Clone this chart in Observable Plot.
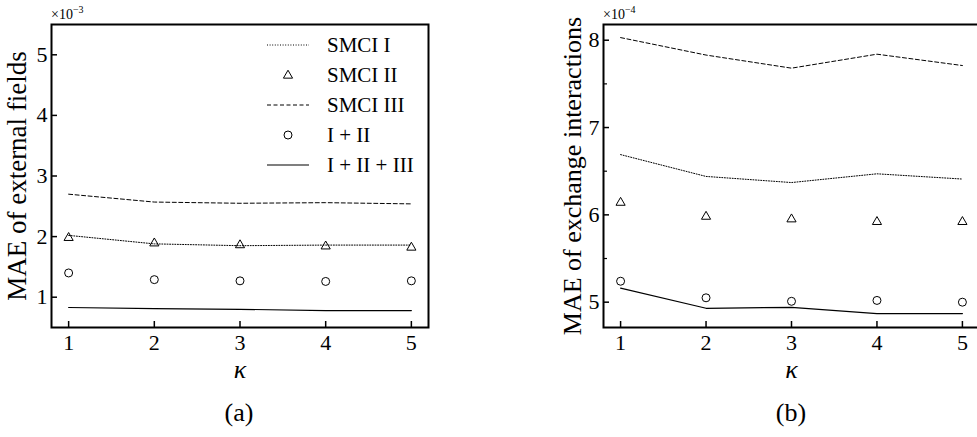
<!DOCTYPE html>
<html>
<head>
<meta charset="utf-8">
<script src="https://cdn.jsdelivr.net/npm/d3@7"></script>
<script src="https://cdn.jsdelivr.net/npm/@observablehq/plot@0.6"></script>
<style>
html, body { margin: 0; padding: 0; background: #fff; overflow: hidden; }
#wrap { position: relative; width: 977px; height: 437px; overflow: hidden; background: #fff;
  font-family: "Liberation Serif", "Times New Roman", serif; color: #000; }
.panel { position: absolute; top: 0; }
.cap { position: absolute; font-size: 26px; line-height: 26px; text-align: center; width: 80px; }
.expo { position: absolute; font-size: 14px; line-height: 14px; white-space: nowrap; }
.expo sup { font-size: 10px; vertical-align: 6px; line-height: 0; }
#legend { position: absolute; left: 267px; top: 30px; font-size: 21px; }
#legend .row { height: 30px; display: flex; align-items: center; white-space: nowrap; }
#legend svg { width: 42px; height: 12px; margin-right: 18px; flex: none; }
</style>
</head>
<body>
<div id="wrap"></div>
<script>
// ---------- data ----------
const kappa = [1, 2, 3, 4, 5];
const seriesNames = ["SMCI I", "SMCI II", "SMCI III", "I + II", "I + II + III"];

// panel (a): MAE of external fields (x 10^-3)
const fieldsSMCI1 = [2.02, 1.88, 1.85, 1.86, 1.86];
const fieldsSMCI2 = [1.98, 1.89, 1.86, 1.84, 1.82];
const fieldsSMCI3 = [2.70, 2.57, 2.55, 2.56, 2.54];
const fieldsI_II = [1.40, 1.29, 1.27, 1.26, 1.27];
const fieldsI_II_III = [0.83, 0.81, 0.80, 0.78, 0.78];
const fieldsYTicks = [1, 2, 3, 4, 5];

// panel (b): MAE of exchange interactions (x 10^-4)
const exchSMCI1 = [6.69, 6.44, 6.37, 6.47, 6.41];
const exchSMCI2 = [6.14, 5.98, 5.95, 5.92, 5.92];
const exchSMCI3 = [8.03, 7.83, 7.68, 7.84, 7.71];
const exchI_II = [5.24, 5.05, 5.01, 5.02, 5.00];
const exchI_II_III = [5.16, 4.93, 4.94, 4.87, 4.87];
const exchYTicks = [5, 6, 7, 8];
const exchYMinor = [5.5, 6.5, 7.5];

// ---------- drawing ----------
const rows = vals => kappa.map((k, i) => ({k, v: vals[i]}));
const DOTTED = "1,1.6";
const DASHED = "4,2.5";
const intFmt = d3.format("d");

function panel({s1, s2, s3, s12, s123, yDomain, yTicks, yMinor, yLabel, yLabelSize, width, marginLeft, marginRight, yLabelOffset}) {
  const marks = [
    Plot.line(rows(s3), {x: "k", y: "v", stroke: "#000", strokeWidth: 1, strokeDasharray: DASHED}),
    Plot.line(rows(s1), {x: "k", y: "v", stroke: "#000", strokeWidth: 1, strokeDasharray: DOTTED}),
    Plot.line(rows(s123), {x: "k", y: "v", stroke: "#000", strokeWidth: 1.2}),
    Plot.dot(rows(s2), {x: "k", y: "v", symbol: "triangle", r: 3.4, stroke: "#000", fill: "none", strokeWidth: 1}),
    Plot.dot(rows(s12), {x: "k", y: "v", symbol: "circle", r: 4, stroke: "#000", fill: "none", strokeWidth: 1}),
    // inward tick marks
    Plot.axisX(kappa, {tickSize: 6, dy: -6, tickFormat: () => "", label: null, strokeWidth: 1.5}),
    Plot.axisY(yTicks, {tickSize: 6, dx: 6, tickFormat: () => "", label: null, strokeWidth: 1.5}),
    // tick labels + axis labels
    Plot.axisX(kappa, {tickSize: 0, tickPadding: 7, fontSize: 22, tickFormat: intFmt, label: "κ", labelAnchor: "center", labelArrow: "none", labelOffset: 50}),
    Plot.axisY(yTicks, {tickSize: 0, tickPadding: 4, fontSize: 22, tickFormat: intFmt, label: yLabel, labelAnchor: "center", labelArrow: "none", labelOffset: yLabelOffset}),
    Plot.frame({stroke: "#000", strokeWidth: 2})
  ];
  if (yMinor) marks.splice(7, 0, Plot.axisY(yMinor, {tickSize: 4, dx: 4, tickFormat: () => "", label: null, strokeWidth: 1.2}));
  const svg = Plot.plot({
    width, height: 437, marginLeft, marginRight, marginTop: 24, marginBottom: 110,
    style: {fontFamily: '"Liberation Serif", "Times New Roman", serif', color: "#000", background: "transparent", overflow: "visible"},
    x: {domain: [0.8, 5.2]},
    y: {domain: yDomain},
    marks
  });
  d3.select(svg).selectAll('[aria-label="x-axis label"] text').style("font-style", "italic").style("font-size", "26px");
  d3.select(svg).selectAll('[aria-label="y-axis label"] text').style("font-size", yLabelSize + "px");
  return svg;
}

const wrap = document.getElementById("wrap");

const svgA = panel({
  s1: fieldsSMCI1, s2: fieldsSMCI2, s3: fieldsSMCI3, s12: fieldsI_II, s123: fieldsI_II_III,
  yDomain: [0.5, 5.5], yTicks: fieldsYTicks, yMinor: null, yLabel: "MAE of external fields", yLabelSize: 27,
  width: 488, marginLeft: 51, marginRight: 60, yLabelOffset: 45
});
svgA.classList.add("panel"); svgA.style.left = "0px";
wrap.appendChild(svgA);

const svgB = panel({
  s1: exchSMCI1, s2: exchSMCI2, s3: exchSMCI3, s12: exchI_II, s123: exchI_II_III,
  yDomain: [4.71, 8.18], yTicks: exchYTicks, yMinor: exchYMinor, yLabel: "MAE of exchange interactions", yLabelSize: 26,
  width: 500, marginLeft: 115, marginRight: 9, yLabelOffset: 41
});
svgB.classList.add("panel"); svgB.style.left = "488px";
wrap.appendChild(svgB);

// exponent labels
function expo(left, power) {
  const d = document.createElement("div");
  d.className = "expo";
  d.style.left = left + "px"; d.style.top = "8px";
  d.innerHTML = "×10<sup>−" + power + "</sup>";
  wrap.appendChild(d);
}
expo(51, 3);
expo(603, 4);

// captions
function caption(cx, text) {
  const d = document.createElement("div");
  d.className = "cap";
  d.style.left = (cx - 40) + "px"; d.style.top = "400px";
  d.textContent = text;
  wrap.appendChild(d);
}
caption(239, "(a)");
caption(791, "(b)");

// legend (panel a)
const legend = document.createElement("div");
legend.id = "legend";
const swatch = [
  `<line x1="0" x2="42" y1="6" y2="6" stroke="#000" stroke-width="1" stroke-dasharray="${DOTTED}"/>`,
  `<path transform="translate(21,6.5)" d="${d3.symbol(d3.symbolTriangle, 3.4 * 3.4 * Math.PI)()}" fill="none" stroke="#000" stroke-width="1"/>`,
  `<line x1="0" x2="42" y1="6" y2="6" stroke="#000" stroke-width="1" stroke-dasharray="${DASHED}"/>`,
  `<circle cx="21" cy="6" r="4" fill="none" stroke="#000" stroke-width="1"/>`,
  `<line x1="0" x2="42" y1="6" y2="6" stroke="#000" stroke-width="1.2"/>`
];
seriesNames.forEach((name, i) => {
  const r = document.createElement("div");
  r.className = "row";
  r.innerHTML = `<svg viewBox="0 0 42 12">${swatch[i]}</svg><span>${name}</span>`;
  legend.appendChild(r);
});
wrap.appendChild(legend);
</script>
</body>
</html>
